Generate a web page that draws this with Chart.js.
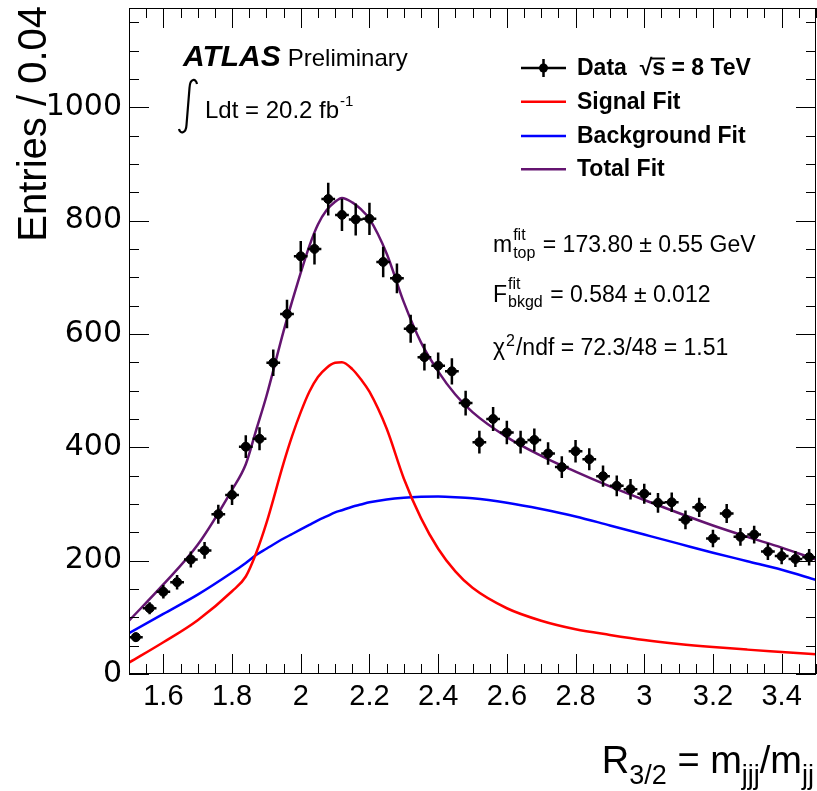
<!DOCTYPE html>
<html>
<head>
<meta charset="UTF-8">
<title>R32 template fit</title>
<style>
    body { margin: 0; background: #fff; }
    #wrap { width: 817px; height: 791px; }
</style>
</head>
<body>
<div id="wrap"><canvas id="myChart" width="817" height="791"></canvas></div>
<script src="https://cdn.jsdelivr.net/npm/chart.js"></script>
<script>
    // data points (bin centres, bin width 0.04)
    const dataX = [1.52,1.56,1.60,1.64,1.68,1.72,1.76,1.80,1.84,1.88,1.92,1.96,2.00,2.04,2.08,2.12,2.16,2.20,2.24,2.28,
                   2.32,2.36,2.40,2.44,2.48,2.52,2.56,2.60,2.64,2.68,2.72,2.76,2.80,2.84,2.88,2.92,2.96,3.00,3.04,3.08,
                   3.12,3.16,3.20,3.24,3.28,3.32,3.36,3.40,3.44,3.48];
    const dataY = [65,116,145,162,202,218,282,316,401,415,549,635,737,750,838,810,802,803,727,698,
                   609,559,544,534,478,409,450,426,409,413,389,365,393,379,349,332,326,318,302,303,
                   272,294,239,283,242,246,216,208,203,206];
    const dataErr = [8.1,10.8,12.0,12.7,14.2,14.8,16.8,17.8,20.0,20.4,23.4,25.2,27.1,27.4,28.9,28.5,28.3,28.3,27.0,26.4,
                     24.7,23.6,23.3,23.1,21.9,20.2,21.2,20.6,20.2,20.3,19.7,19.1,19.8,19.5,18.7,18.2,18.1,17.8,17.4,17.4,
                     16.5,17.1,15.5,16.8,15.6,15.7,14.7,14.4,14.2,14.4];
    const binHalfWidth = 0.02;

    // fit curves
    const fitX =     [1.5, 1.6, 1.7, 1.8, 1.84, 1.87, 1.9, 1.95, 1.975, 2.0, 2.025, 2.05, 2.075, 2.1, 2.12, 2.15, 2.175, 2.2,
                      2.25, 2.3, 2.35, 2.4, 2.45, 2.5, 2.6, 2.7, 2.8, 2.9, 3.0, 3.1, 3.2, 3.3, 3.4, 3.5];
    const signalFit = [20, 56, 95, 146, 172, 213, 266, 372, 420, 462, 498, 524, 540, 549, 550, 538, 520, 498,
                       433, 345, 275, 221, 181, 152, 116, 94, 79, 69, 60, 53, 47.5, 43, 39, 35];
    const bkgFit =    [72, 106, 140, 179, 196, 210, 221, 239, 247, 255, 263, 271, 278, 285, 289, 295, 299, 303,
                       308, 311, 312.5, 313, 312, 310, 302, 291, 278, 262, 246, 230, 214, 199, 184, 166];
    const totalFit =  [94, 158, 228, 325, 370, 430, 490, 605, 658, 708, 755, 793, 818, 833, 840, 832, 820, 803,
                       742, 656, 585, 534, 493, 462, 418, 385, 357, 331, 307, 284, 262, 242, 223, 202];

    // axis ticks
    const xTickValues = [1.6, 1.8, 2.0, 2.2, 2.4, 2.6, 2.8, 3.0, 3.2, 3.4];
    const xTickLabels = ['1.6', '1.8', '2', '2.2', '2.4', '2.6', '2.8', '3', '3.2', '3.4'];
    const yTickValues = [0, 200, 400, 600, 800, 1000];
    const yTickLabels = ['0', '200', '400', '600', '800', '1000'];

    const PURPLE = '#641470';
    const SANS = '"Liberation Sans", Arial, sans-serif';

    function pts(xs, ys) {
        return xs.map((v, i) => ({ x: v, y: ys[i] }));
    }

    function txt(ctx, s, x, y, font, align) {
        ctx.font = font;
        ctx.textAlign = align || 'left';
        ctx.fillText(s, x, y);
        return ctx.measureText(s).width;
    }

    // error bars on the data points
    const errorBars = {
        id: 'errorBars',
        afterDatasetsDraw(chart) {
            const { ctx, scales: { x, y } } = chart;
            ctx.save();
            ctx.strokeStyle = '#000';
            ctx.lineWidth = 2.5;
            ctx.beginPath();
            for (let i = 0; i < dataX.length; i++) {
                const px = x.getPixelForValue(dataX[i]);
                const py = y.getPixelForValue(dataY[i]);
                ctx.moveTo(px, y.getPixelForValue(dataY[i] - dataErr[i]));
                ctx.lineTo(px, y.getPixelForValue(dataY[i] + dataErr[i]));
                ctx.moveTo(x.getPixelForValue(dataX[i] - binHalfWidth), py);
                ctx.lineTo(x.getPixelForValue(dataX[i] + binHalfWidth), py);
            }
            ctx.stroke();
            ctx.restore();
        }
    };

    // ROOT style frame with inward ticks on all sides
    const frameTicks = {
        id: 'frameTicks',
        afterDraw(chart) {
            const { ctx, chartArea: a, scales: { x, y } } = chart;
            ctx.save();
            ctx.strokeStyle = '#000';
            ctx.lineWidth = 1;
            ctx.beginPath();
            for (let k = 0; k <= 40; k++) {
                const px = Math.round(x.getPixelForValue(1.5 + k * 0.05)) + 0.5;
                const len = (k - 2) % 4 === 0 ? 20 : 10;
                ctx.moveTo(px, a.bottom); ctx.lineTo(px, a.bottom - len);
                ctx.moveTo(px, a.top); ctx.lineTo(px, a.top + len);
            }
            for (let v = 0; v <= 1150; v += 50) {
                const py = Math.round(y.getPixelForValue(v)) + 0.5;
                const len = v % 200 === 0 ? 20 : 10;
                ctx.moveTo(a.left, py); ctx.lineTo(a.left + len, py);
                ctx.moveTo(a.right, py); ctx.lineTo(a.right - len, py);
            }
            ctx.stroke();
            ctx.strokeRect(a.left + 0.5, a.top + 0.5, a.width - 1, a.height - 1);
            ctx.restore();
        }
    };

    // labels, legend and fit results
    const annotations = {
        id: 'annotations',
        afterDraw(chart) {
            const ctx = chart.ctx;
            ctx.save();
            ctx.fillStyle = '#000';
            ctx.textBaseline = 'alphabetic';

            // y title
            ctx.save();
            ctx.translate(46, 6);
            ctx.rotate(-Math.PI / 2);
            txt(ctx, 'Entries / 0.04', 0, 0, '40px ' + SANS, 'right');
            ctx.restore();

            // x title
            const main = '38px ' + SANS, sub = '27px ' + SANS;
            const parts = [['R', main, 0], ['3/2', sub, 11], [' = m', main, 0], ['jjj', sub, 11], ['/m', main, 0], ['jj', sub, 11]];
            let total = 0;
            parts.forEach(p => { ctx.font = p[1]; total += ctx.measureText(p[0]).width; });
            let cx = 814 - total;
            parts.forEach(p => { cx += txt(ctx, p[0], cx, 773 + p[2], p[1]); });

            // ATLAS label
            let w = txt(ctx, 'ATLAS', 183, 66, 'italic bold 30px ' + SANS);
            txt(ctx, 'Preliminary', 183 + w + 7, 66, '24px ' + SANS);

            // integral sign
            ctx.strokeStyle = '#000';
            ctx.lineWidth = 2.2;
            ctx.beginPath();
            ctx.moveTo(197, 84);
            ctx.bezierCurveTo(196, 78, 190, 78, 189.5, 88);
            ctx.lineTo(186.5, 125);
            ctx.bezierCurveTo(186, 134, 180, 134, 179, 129);
            ctx.stroke();
            w = txt(ctx, 'Ldt = 20.2 fb', 205, 118, '24px ' + SANS);
            txt(ctx, '-1', 205 + w + 1, 106, '15px ' + SANS);

            // legend
            const LB = 'bold 23px ' + SANS;
            ctx.lineWidth = 2.5;
            ctx.strokeStyle = '#000';
            ctx.beginPath();
            ctx.moveTo(521, 68); ctx.lineTo(566, 68);
            ctx.moveTo(543.5, 59); ctx.lineTo(543.5, 77);
            ctx.stroke();
            ctx.beginPath();
            ctx.arc(543.5, 68, 4.5, 0, Math.PI * 2);
            ctx.fill();
            w = txt(ctx, 'Data  ', 577, 75, LB);
            const w2 = txt(ctx, '\u221A', 577 + w, 75, LB);
            const w3 = txt(ctx, 's', 577 + w + w2, 75, LB);
            ctx.lineWidth = 2;
            ctx.beginPath();
            ctx.moveTo(577 + w + w2 - 1, 58.5); ctx.lineTo(577 + w + w2 + w3, 58.5);
            ctx.stroke();
            txt(ctx, ' = 8 TeV', 577 + w + w2 + w3, 75, LB);

            const legendRows = [['Signal Fit', '#ff0000', 101.7], ['Background Fit', '#0000ff', 136], ['Total Fit', PURPLE, 169.3]];
            legendRows.forEach(r => {
                ctx.strokeStyle = r[1];
                ctx.lineWidth = 2.5;
                ctx.beginPath();
                ctx.moveTo(521, r[2]); ctx.lineTo(566, r[2]);
                ctx.stroke();
                txt(ctx, r[0], 577, r[2] + 7, LB);
            });

            // fit results
            const F = '23px ' + SANS, S = '16px ' + SANS;
            function symLine(x, y, base, sup, supDy, sb, subDy, rest) {
                const bw = txt(ctx, base, x, y, F);
                const a = sup ? txt(ctx, sup, x + bw + 1, y + supDy, S) : 0;
                const b = sb ? txt(ctx, sb, x + bw + 1, y + subDy, S) : 0;
                txt(ctx, rest, x + bw + 2 + Math.max(a, b), y, F);
            }
            symLine(493, 252, 'm', 'fit', -12, 'top', 6, ' = 173.80 \u00B1 0.55 GeV');
            symLine(493, 302, 'F', 'fit', -13, 'bkgd', 5, ' = 0.584 \u00B1 0.012');
            symLine(493, 355, '\u03C7', '2', -9, null, 0, '/ndf = 72.3/48 = 1.51');

            ctx.restore();
        }
    };

    const ctx = document.getElementById('myChart').getContext('2d');
    new Chart(ctx, {
        type: 'scatter',
        data: {
            datasets: [
                {
                    label: 'Data',
                    data: pts(dataX, dataY),
                    backgroundColor: '#000',
                    borderColor: '#000',
                    pointRadius: 4.5,
                    pointHoverRadius: 4.5,
                    order: 0
                },
                {
                    type: 'line',
                    label: 'Signal Fit',
                    data: pts(fitX, signalFit),
                    borderColor: '#ff0000',
                    borderWidth: 2.5,
                    pointRadius: 0,
                    cubicInterpolationMode: 'monotone',
                    fill: false,
                    order: 1
                },
                {
                    type: 'line',
                    label: 'Background Fit',
                    data: pts(fitX, bkgFit),
                    borderColor: '#0000ff',
                    borderWidth: 2.5,
                    pointRadius: 0,
                    cubicInterpolationMode: 'monotone',
                    fill: false,
                    order: 1
                },
                {
                    type: 'line',
                    label: 'Total Fit',
                    data: pts(fitX, totalFit),
                    borderColor: PURPLE,
                    borderWidth: 2.5,
                    pointRadius: 0,
                    cubicInterpolationMode: 'monotone',
                    fill: false,
                    order: 1
                }
            ]
        },
        options: {
            responsive: false,
            animation: false,
            devicePixelRatio: 1,
            layout: { autoPadding: false, padding: { top: 8, right: 1, left: 0, bottom: 0 } },
            plugins: {
                legend: { display: false },
                tooltip: { enabled: false }
            },
            scales: {
                x: {
                    type: 'linear',
                    min: 1.5,
                    max: 3.5,
                    grid: { display: false, drawTicks: false },
                    border: { display: false },
                    afterBuildTicks: (scale) => { scale.ticks = xTickValues.map(v => ({ value: v })); },
                    afterFit: (scale) => {
                        scale.height = 117;
                        scale.paddingLeft = 0;
                        scale.paddingRight = 0;
                    },
                    ticks: {
                        autoSkip: false,
                        maxRotation: 0,
                        padding: 6,
                        color: '#000',
                        font: { family: 'Liberation Sans', size: 29 },
                        callback: (value, index) => xTickLabels[index]
                    }
                },
                y: {
                    type: 'linear',
                    min: 0,
                    max: 1175,
                    grid: { display: false, drawTicks: false },
                    border: { display: false },
                    afterBuildTicks: (scale) => { scale.ticks = yTickValues.map(v => ({ value: v })); },
                    afterFit: (scale) => {
                        scale.width = 129;
                        scale.paddingTop = 0;
                        scale.paddingBottom = 0;
                    },
                    ticks: {
                        autoSkip: false,
                        padding: 7,
                        color: '#000',
                        font: { family: 'DejaVu Sans', size: 30 },
                        callback: (value, index) => yTickLabels[index]
                    }
                }
            }
        },
        plugins: [errorBars, frameTicks, annotations]
    });
</script>
</body>
</html>
